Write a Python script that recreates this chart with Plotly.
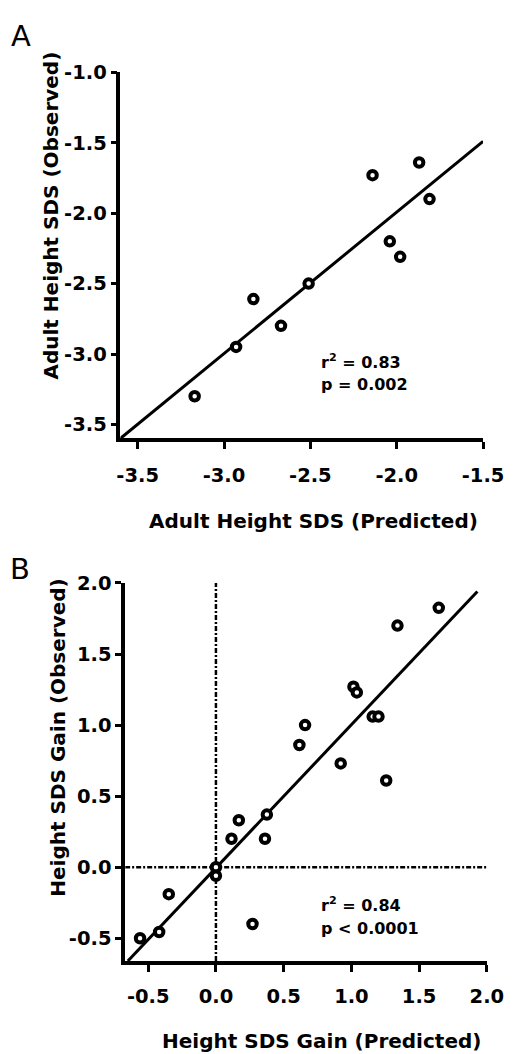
import plotly.graph_objects as go

W, H = 526, 1054

# ---------------- Panel A data ----------------
a_pred = [-3.17, -2.93, -2.83, -2.67, -2.51, -2.14, -2.04, -1.98, -1.87, -1.81]
a_obs = [-3.30, -2.95, -2.61, -2.80, -2.50, -1.73, -2.20, -2.31, -1.64, -1.90]
a_fit_x = [-3.60, -1.50]
a_fit_y = [-3.60, -1.49]
a_xticks = [-3.5, -3.0, -2.5, -2.0, -1.5]
a_xtick_labels = ["-3.5", "-3.0", "-2.5", "-2.0", "-1.5"]
a_yticks = [-3.5, -3.0, -2.5, -2.0, -1.5, -1.0]
a_ytick_labels = ["-3.5", "-3.0", "-2.5", "-2.0", "-1.5", "-1.0"]
a_xrange = [-3.6, -1.5]
a_yrange = [-3.6, -1.0]

# ---------------- Panel B data ----------------
b_pred = [1.645, 1.34, 1.015, 1.04, 1.157, 1.20, 0.658, 0.616, 0.921, 1.257,
          0.169, 0.115, 0.376, 0.362, 0.0, 0.0, -0.348, -0.419, -0.56, 0.27]
b_obs = [1.825, 1.70, 1.27, 1.23, 1.06, 1.06, 1.00, 0.86, 0.73, 0.61,
         0.33, 0.20, 0.37, 0.20, 0.0, -0.06, -0.19, -0.456, -0.50, -0.40]
b_fit_x = [-0.65, 1.93]
b_fit_y = [-0.66, 1.94]
b_xticks = [-0.5, 0.0, 0.5, 1.0, 1.5, 2.0]
b_xtick_labels = ["-0.5", "0.0", "0.5", "1.0", "1.5", "2.0"]
b_yticks = [-0.5, 0.0, 0.5, 1.0, 1.5, 2.0]
b_ytick_labels = ["-0.5", "0.0", "0.5", "1.0", "1.5", "2.0"]
b_xrange = [-0.67, 2.0]
b_yrange = [-0.66, 2.0]

FONT = "DejaVu Sans"
marker = dict(symbol="circle", size=8.5, color="white",
              line=dict(color="black", width=4))

fig = go.Figure()

# Panel A
fig.add_trace(go.Scatter(x=a_fit_x, y=a_fit_y, mode="lines",
                         line=dict(color="black", width=3), xaxis="x", yaxis="y",
                         showlegend=False, hoverinfo="skip"))
fig.add_trace(go.Scatter(x=a_pred, y=a_obs, mode="markers", marker=marker,
                         xaxis="x", yaxis="y", showlegend=False))

# Panel B reference lines
dashdot = "5px,2px,2px,2px"
fig.add_trace(go.Scatter(x=[0, 0], y=b_yrange, mode="lines",
                         line=dict(color="black", width=2.5, dash=dashdot),
                         xaxis="x2", yaxis="y2", showlegend=False, hoverinfo="skip"))
fig.add_trace(go.Scatter(x=b_xrange, y=[0, 0], mode="lines",
                         line=dict(color="black", width=2.5, dash=dashdot),
                         xaxis="x2", yaxis="y2", showlegend=False, hoverinfo="skip"))
fig.add_trace(go.Scatter(x=b_fit_x, y=b_fit_y, mode="lines",
                         line=dict(color="black", width=3), xaxis="x2", yaxis="y2",
                         showlegend=False, hoverinfo="skip"))
fig.add_trace(go.Scatter(x=b_pred, y=b_obs, mode="markers", marker=marker,
                         xaxis="x2", yaxis="y2", showlegend=False))

tickfont = dict(family=FONT, size=19.5, color="black", weight="bold")
common = dict(showgrid=False, zeroline=False, showline=True, linewidth=3.5,
              linecolor="black", ticks="outside", tickwidth=3, tickcolor="black",
              tickfont=tickfont, fixedrange=True)

def px_x(p):
    return p / W

def px_y(p):
    return 1 - p / H

fig.update_layout(
    width=W, height=H,
    margin=dict(l=0, r=0, t=0, b=0),
    paper_bgcolor="white", plot_bgcolor="white",
    xaxis=dict(domain=[px_x(123), px_x(503)], range=a_xrange, anchor="y",
               tickvals=a_xticks, ticktext=a_xtick_labels, ticklen=7,
               ticklabelstandoff=9, **common),
    yaxis=dict(domain=[px_y(432), px_y(62)], range=a_yrange, anchor="x",
               tickvals=a_yticks, ticktext=a_ytick_labels, ticklen=6,
               ticklabelstandoff=0, **common),
    xaxis2=dict(domain=[px_x(128), px_x(507)], range=b_xrange, anchor="y2",
                tickvals=b_xticks, ticktext=b_xtick_labels, ticklen=7,
                ticklabelstandoff=8, **common),
    yaxis2=dict(domain=[px_y(960), px_y(578)], range=b_yrange, anchor="x2",
                tickvals=b_yticks, ticktext=b_ytick_labels, ticklen=6,
                ticklabelstandoff=0, **common),
)

titlefont = dict(family=FONT, size=20, color="black", weight="bold")
statfont = dict(family=FONT, size=16, color="black", weight="bold")
letterfont = dict(family=FONT, size=29, color="black")

ann = [
    dict(text="A", x=px_x(6), y=px_y(25), xanchor="left", yanchor="middle", font=letterfont),
    dict(text="B", x=px_x(5), y=px_y(564), xanchor="left", yanchor="middle", font=letterfont),
    dict(text="Adult Height SDS (Predicted)", x=px_x(325), y=px_y(515),
         xanchor="center", yanchor="middle", font=titlefont),
    dict(text="Adult Height SDS (Observed)", x=px_x(50), y=px_y(207),
         xanchor="center", yanchor="middle", textangle=-90, font=titlefont),
    dict(text="Height SDS Gain (Predicted)", x=px_x(334), y=px_y(1041),
         xanchor="center", yanchor="middle", font=titlefont),
    dict(text="Height SDS Gain (Observed)", x=px_x(58), y=px_y(734),
         xanchor="center", yanchor="middle", textangle=-90, font=titlefont),
    dict(text="r<sup>2</sup> = 0.83", x=px_x(331), y=px_y(354),
         xanchor="left", yanchor="middle", font=statfont),
    dict(text="p = 0.002", x=px_x(331), y=px_y(377),
         xanchor="left", yanchor="middle", font=statfont),
    dict(text="r<sup>2</sup> = 0.84", x=px_x(331), y=px_y(903),
         xanchor="left", yanchor="middle", font=statfont),
    dict(text="p < 0.0001", x=px_x(331), y=px_y(927),
         xanchor="left", yanchor="middle", font=statfont),
]
for a in ann:
    a.update(xref="paper", yref="paper", showarrow=False)
fig.update_layout(annotations=ann)

fig.write_html("out.html", config={"displayModeBar": False})
